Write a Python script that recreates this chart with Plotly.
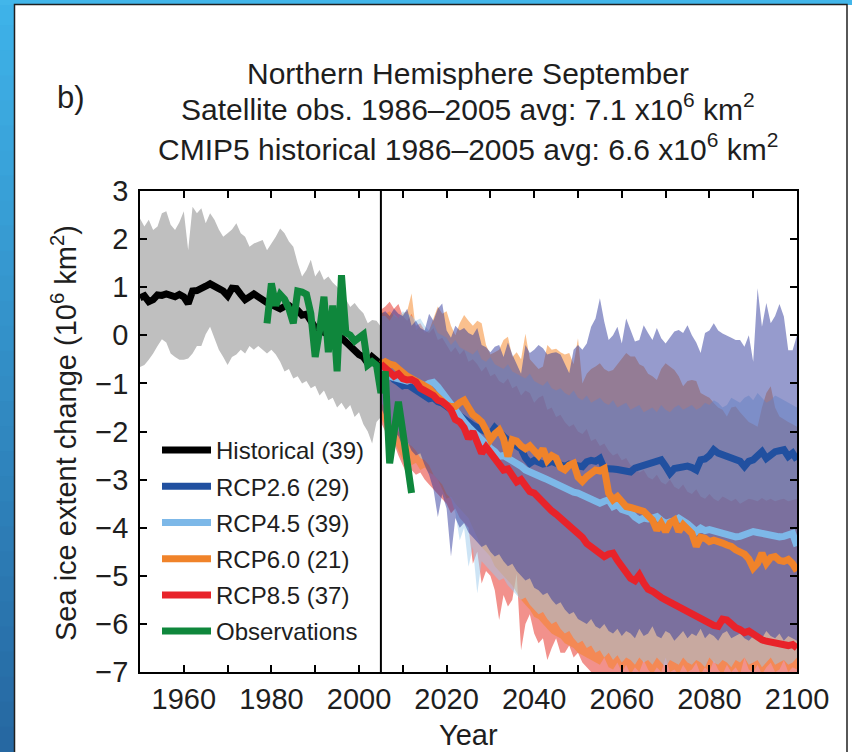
import plotly.graph_objects as go

# ---------------- data ----------------
hist_years = list(range(1950, 2006))
hist_mean = [0.78, 0.82, 0.70, 0.74, 0.84, 0.83, 0.86, 0.82, 0.80, 0.85,
             0.80, 0.66, 0.92, 0.93, 0.96, 1.02, 1.07, 1.00, 0.97, 0.92,
             0.82, 0.98, 0.97, 0.85, 0.74, 0.80, 0.86, 0.80, 0.72, 0.68,
             0.64, 0.60, 0.55, 0.60, 0.62, 0.55, 0.52, 0.42, 0.44, 0.30,
             0.16, 0.10, 0.05, 0.02, 0.06, -0.02, -0.05, -0.15, -0.25, -0.30,
             -0.40, -0.45, -0.58, -0.45, -0.55, -0.60]
hist_upper = [2.43, 2.26, 2.40, 2.19, 2.26, 2.54, 2.58, 2.30, 2.19, 2.35,
              2.58, 1.77, 2.67, 2.54, 2.64, 2.33, 2.54, 2.40, 2.20, 2.05,
              2.12, 2.20, 2.33, 2.12, 2.05, 1.84, 1.91, 1.95, 1.98, 1.77,
              1.90, 2.05, 2.22, 2.12, 1.95, 1.84, 1.50, 1.22, 1.36, 1.57,
              1.22, 1.36, 1.15, 1.22, 1.10, 1.01, 0.87, 0.75, 0.59, 0.67,
              0.55, 0.46, 0.25, 0.32, 0.30, 0.18]
hist_lower = [-0.66, -0.62, -0.51, -0.38, -0.22, -0.08, -0.15, -0.38, -0.45, -0.51,
              -0.51, -0.48, -0.38, -0.22, -0.22, 0.02, 0.18, -0.08, -0.30, -0.45,
              -0.62, -0.45, -0.40, -0.30, -0.38, -0.22, -0.30, -0.22, -0.30, -0.38,
              -0.30, -0.40, -0.55, -0.75, -0.70, -0.90, -0.85, -1.00, -0.95, -1.10,
              -1.05, -1.25, -1.15, -1.35, -1.30, -1.50, -1.40, -1.55, -1.45, -1.70,
              -1.60, -1.85, -2.00, -2.25, -1.80, -1.70]

obs_years = list(range(1979, 2013))
obs_values = [0.25, 1.08, 0.62, 0.85, 0.75, 0.55, 0.25, 0.92, 0.90, 0.85,
              0.45, -0.45, 0.10, 0.80, -0.35, 0.62, -0.75, 1.25, 0.05, 0.00,
              -0.12, -0.05, 0.02, -0.62, -0.55, -0.62, -1.20, -0.75, -2.66, -2.02,
              -1.38, -2.00, -2.60, -3.28]

# projections start from the end of the historical run (2005)
rcp_years = list(range(2005, 2101))

rcp26_mean = [-0.60,
              -0.72, -0.85, -0.92, -0.98, -1.05, -1.02, -1.08, -1.12, -1.18, -1.25,
              -1.32, -1.30, -1.38, -1.41, -1.48, -1.52, -1.58, -1.66, -1.72, -1.80,
              -1.87, -1.92, -1.97, -2.00, -2.05, -1.92, -2.04, -2.10, -2.18, -2.22,
              -2.30, -2.36, -2.55, -2.66, -2.60, -2.64, -2.68, -2.66, -2.62, -2.66,
              -2.70, -2.73, -2.68, -2.70, -2.72, -2.73, -2.63, -2.60, -2.62, -2.56,
              -2.77, -2.76, -2.78, -2.79, -2.80, -2.82, -2.84, -2.76, -2.73, -2.70,
              -2.66, -2.64, -2.63, -2.59, -2.72, -2.87, -2.77, -2.75, -2.73, -2.72,
              -2.75, -2.80, -2.59, -2.57, -2.50, -2.38, -2.45, -2.48, -2.52, -2.54,
              -2.56, -2.62, -2.73, -2.62, -2.59, -2.50, -2.42, -2.56, -2.48, -2.42,
              -2.40, -2.38, -2.52, -2.45, -2.59]
rcp26_upper = [0.45,
               0.50, 0.40, 0.55, 0.45, 0.40, 0.55, 0.20, 0.30, 0.15, 0.10,
               0.45, 0.30, 0.55, 0.66, 0.10, -0.05, 0.20, 0.10, 0.15, 0.05,
               0.00, 0.15, -0.20, -0.25, -0.35, -0.24, -0.20, -0.45, -0.15, -0.40,
               -0.60, -0.80, -0.20, -0.37, -0.30, -0.20, -0.27, -0.40, -0.37, -0.35,
               -0.40, -0.58, -0.79, -0.30, -0.20, -0.30, -0.17, 0.18, 0.35, 0.77,
               0.28, -0.10, 0.00, 0.18, -0.17, 0.35, 0.10, -0.13, -0.10, 0.21,
               0.05, -0.10, 0.15, -0.06, -0.17, -0.05, 0.08, 0.11, 0.05, 0.21,
               0.00, -0.15, -0.37, 0.05, 0.10, 0.25, 0.10, 0.04, 0.00, -0.05,
               -0.10, -0.10, -0.24, 0.00, -0.55, 0.98, 0.18, 0.67, 0.25, 0.40,
               0.65, 0.39, -0.31, -0.31, 0.00]
rcp26_lower = [-1.50,
               -1.70, -1.90, -2.00, -2.10, -2.30, -2.20, -2.40, -2.50, -2.45, -2.70,
               -2.90, -3.20, -3.78, -3.30, -3.60, -4.60, -3.80, -4.00, -3.90, -4.10,
               -4.20, -4.30, -4.40, -4.35, -4.50, -4.60, -4.55, -4.70, -4.80, -4.75,
               -4.90, -5.00, -5.10, -5.05, -5.25, -5.30, -5.40, -5.35, -5.50, -5.60,
               -5.55, -5.70, -5.80, -5.75, -5.90, -5.95, -6.00, -5.90, -6.05, -6.10,
               -6.00, -6.15, -6.20, -6.10, -6.25, -6.15, -6.20, -6.30, -6.10, -6.25,
               -6.20, -6.05, -6.25, -6.30, -6.15, -6.20, -6.35, -6.25, -6.15, -6.30,
               -6.20, -6.25, -6.10, -6.30, -6.20, -6.25, -6.35, -6.20, -6.15, -6.30,
               -6.25, -6.20, -6.30, -6.35, -6.25, -6.20, -6.30, -6.15, -6.25, -6.30,
               -6.20, -6.35, -6.25, -6.30, -6.35]

rcp45_mean = [-0.60,
              -0.72, -0.85, -0.88, -0.90, -0.92, -0.95, -0.92, -0.97, -1.02, -1.05,
              -1.00, -0.98, -1.07, -1.20, -1.31, -1.40, -1.55, -1.72, -1.80, -1.90,
              -2.00, -2.10, -2.17, -2.25, -2.35, -2.42, -2.52, -2.50, -2.55, -2.60,
              -2.66, -2.72, -2.80, -2.85, -2.88, -2.94, -2.96, -3.00, -3.05, -3.08,
              -3.12, -3.18, -3.22, -3.26, -3.28, -3.32, -3.35, -3.38, -3.42, -3.49,
              -3.45, -3.42, -3.56, -3.52, -3.62, -3.67, -3.68, -3.78, -3.84, -3.80,
              -3.82, -3.80, -3.77, -3.85, -3.91, -3.88, -3.86, -3.80, -3.85, -3.92,
              -4.00, -4.08, -4.01, -4.06, -4.04, -4.07, -4.08, -4.12, -4.14, -4.16,
              -4.19, -4.18, -4.15, -4.12, -4.08, -4.10, -4.12, -4.15, -4.17, -4.18,
              -4.19, -4.18, -4.14, -4.12, -4.38]
rcp45_upper = [0.40,
               0.40, 0.30, 0.45, 0.35, 0.50, 0.45, 0.40, 0.30, 0.35, 0.20,
               0.10, 0.25, 0.05, 0.00, -0.05, -0.20, -0.10, -0.25, -0.30, -0.35,
               -0.40, -0.30, -0.50, -0.55, -0.45, -0.60, -0.65, -0.70, -0.60, -0.75,
               -0.80, -0.85, -0.90, -0.80, -0.95, -1.00, -1.05, -0.95, -1.10, -1.15,
               -1.10, -1.20, -1.25, -1.15, -1.30, -1.35, -1.25, -1.40, -1.35, -1.30,
               -1.40, -1.45, -1.35, -1.50, -1.45, -1.40, -1.55, -1.50, -1.45, -1.60,
               -1.55, -1.50, -1.60, -1.45, -1.55, -1.60, -1.50, -1.45, -1.55, -1.50,
               -1.45, -1.55, -1.50, -1.40, -1.45, -1.35, -1.40, -1.50, -1.45, -1.30,
               -1.35, -1.40, -1.30, -1.25, -1.35, -1.20, -1.30, -1.40, -1.35, -1.25,
               -1.30, -1.35, -1.40, -1.45, -1.50]
rcp45_lower = [-1.40,
               -1.50, -1.80, -1.90, -2.00, -2.10, -2.25, -2.30, -2.40, -2.55, -2.60,
               -2.70, -2.90, -3.00, -3.10, -3.30, -3.40, -3.70, -4.26, -4.00, -4.81,
               -4.40, -5.37, -4.70, -4.80, -4.90, -5.00, -5.10, -5.05, -5.20, -5.30,
               -5.40, -5.50, -5.45, -5.60, -5.70, -5.80, -5.75, -5.90, -6.00, -5.95,
               -6.10, -6.20, -6.15, -6.30, -6.40, -6.35, -6.50, -6.45, -6.60, -6.55,
               -6.70, -6.60, -6.75, -6.65, -6.80, -6.70, -6.75, -6.85, -6.70, -6.80,
               -6.75, -6.85, -6.70, -6.80, -6.90, -6.75, -6.80, -6.85, -6.70, -6.80,
               -6.85, -6.75, -6.80, -6.90, -6.70, -6.80, -6.85, -6.75, -6.80, -6.90,
               -6.75, -6.80, -6.70, -6.85, -6.80, -6.75, -6.90, -6.80, -6.70, -6.85,
               -6.80, -6.75, -6.85, -6.80, -6.70]

rcp60_mean = [-0.60,
              -0.55, -0.60, -0.62, -0.70, -0.80, -0.85, -0.90, -0.95, -1.00, -1.05,
              -1.10, -1.20, -1.28, -1.35, -1.45, -1.48, -1.48, -1.40, -1.35, -1.50,
              -1.65, -1.72, -1.80, -1.97, -2.17, -2.05, -1.97, -2.15, -2.52, -2.17,
              -2.20, -2.30, -2.36, -2.30, -2.43, -2.50, -2.36, -2.60, -2.50, -2.55,
              -2.75, -2.80, -2.70, -2.66, -2.95, -3.04, -2.94, -2.85, -2.80, -2.82,
              -2.77, -3.28, -3.42, -3.35, -3.45, -3.56, -3.58, -3.60, -3.62, -3.66,
              -3.75, -3.84, -4.05, -3.91, -4.08, -3.90, -3.84, -4.08, -3.94, -4.02,
              -4.12, -4.39, -4.20, -4.22, -4.29, -4.26, -4.28, -4.32, -4.36, -4.39,
              -4.46, -4.50, -4.55, -4.65, -4.84, -4.74, -4.53, -4.74, -4.62, -4.60,
              -4.68, -4.70, -4.66, -4.75, -4.90]
rcp60_upper = [0.50,
               0.45, 0.50, 0.40, 0.35, 0.45, 0.50, 0.87, 0.10, 0.20, 0.05,
               0.10, 0.35, 0.60, 0.45, 0.50, 0.20, 0.00, 0.25, 0.42, 0.30,
               0.20, 0.30, 0.25, -0.20, -0.40, -0.35, -0.30, -0.10, -0.03, -0.45,
               -0.35, -0.50, 0.03, -0.50, -0.60, -0.70, -0.65, -0.20, -0.30, -0.28,
               -0.35, -0.40, -0.37, -0.60, -0.06, -1.00, -0.80, -0.70, -0.65, -0.58,
               -0.70, -0.75, -0.72, -0.60, -0.50, -0.37, -0.44, -0.44, -0.60, -0.65,
               -0.80, -0.85, -0.93, -0.70, -0.58, -0.65, -0.72, -0.85, -1.06, -0.95,
               -0.93, -0.95, -1.20, -1.25, -1.30, -1.41, -1.50, -1.55, -1.69, -1.50,
               -1.48, -1.60, -1.69, -1.80, -1.85, -1.90, -1.50, -1.20, -1.06, -1.50,
               -1.69, -1.75, -1.80, -1.85, -1.90]
rcp60_lower = [-1.70,
               -1.90, -2.10, -2.20, -2.40, -2.60, -2.50, -2.70, -2.65, -2.80, -2.75,
               -2.85, -2.90, -3.00, -3.20, -3.40, -3.35, -3.50, -3.60, -3.70, -3.80,
               -4.00, -4.20, -4.40, -4.50, -4.60, -4.80, -4.90, -5.00, -5.10, -5.20,
               -5.35, -5.50, -5.60, -5.70, -5.85, -5.90, -6.00, -6.10, -6.20, -6.25,
               -6.30, -6.40, -6.45, -6.50, -6.60, -6.65, -6.70, -6.75, -6.80, -6.85,
               -6.70, -6.90, -6.95, -6.80, -7.00, -6.85, -7.05, -6.90, -7.00, -6.75,
               -6.95, -7.05, -6.90, -7.00, -6.70, -7.00, -6.95, -7.05, -6.85, -7.00,
               -6.95, -6.80, -7.05, -6.90, -7.00, -6.75, -6.95, -7.05, -6.85, -7.00,
               -6.90, -7.05, -6.70, -6.95, -7.00, -6.85, -7.05, -6.90, -6.80, -7.00,
               -6.95, -6.75, -7.00, -6.90, -6.95]

rcp85_mean = [-0.60,
              -0.70, -0.78, -0.85, -0.80, -0.90, -0.93, -0.92, -0.97, -1.10, -1.15,
              -1.20, -1.25, -1.35, -1.38, -1.45, -1.55, -1.75, -1.80, -1.92, -2.15,
              -2.00, -2.20, -2.45, -2.32, -2.45, -2.55, -2.70, -2.80, -2.78, -2.95,
              -3.05, -3.00, -3.15, -3.25, -3.28, -3.38, -3.50, -3.58, -3.65, -3.72,
              -3.80, -3.84, -3.92, -4.02, -4.10, -4.20, -4.33, -4.40, -4.48, -4.57,
              -4.60, -4.55, -4.53, -4.68, -4.82, -4.95, -5.05, -5.10, -4.98, -5.15,
              -5.28, -5.32, -5.40, -5.45, -5.50, -5.55, -5.60, -5.62, -5.66, -5.72,
              -5.78, -5.85, -5.90, -5.95, -6.00, -6.03, -6.05, -5.90, -5.92, -6.02,
              -6.08, -6.12, -6.18, -6.15, -6.22, -6.28, -6.33, -6.36, -6.38, -6.42,
              -6.43, -6.44, -6.45, -6.43, -6.50]
rcp85_upper = [0.53,
               0.60, 0.70, 0.55, 0.65, 0.40, 0.30, 0.45, 0.20, 0.25, 0.10,
               0.05, 0.15, -0.10, -0.05, -0.20, -0.35, -0.25, -0.40, -0.30, -0.55,
               -0.50, -0.60, -0.75, -0.65, -0.85, -0.80, -0.95, -1.00, -0.90, -1.10,
               -1.05, -1.25, -1.15, -1.20, -1.40, -1.30, -1.25, -1.55, -1.50, -1.70,
               -1.65, -1.80, -1.90, -1.85, -2.00, -2.05, -1.95, -2.20, -2.15, -2.30,
               -2.25, -2.40, -2.50, -2.45, -2.60, -2.55, -2.70, -2.75, -2.85, -2.80,
               -2.95, -3.00, -2.90, -3.05, -3.10, -3.00, -3.15, -3.20, -3.10, -3.25,
               -3.30, -3.20, -3.35, -3.40, -3.30, -3.40, -3.45, -3.35, -3.40, -3.45,
               -3.40, -3.50, -3.45, -3.40, -3.42, -3.45, -3.38, -3.44, -3.40, -3.45,
               -3.42, -3.40, -3.45, -3.42, -3.40]
rcp85_lower = [-1.80,
               -2.00, -2.20, -2.25, -2.50, -2.70, -2.90, -2.80, -2.90, -2.85, -3.00,
               -3.10, -3.20, -3.30, -3.40, -3.50, -3.70, -3.60, -3.80, -3.90, -4.00,
               -4.75, -4.50, -5.16, -4.90, -5.00, -5.30, -5.92, -5.40, -5.64, -5.50,
               -4.95, -6.55, -6.00, -5.80, -6.20, -6.40, -6.30, -6.75, -6.50, -6.30,
               -6.60, -6.60, -6.45, -6.70, -6.60, -6.80, -6.90, -7.00, -7.10, -7.20,
               -7.30, -7.40, -7.35, -7.45, -7.40, -7.50, -7.45, -7.50, -7.55, -7.50,
               -7.55, -7.60, -7.50, -7.55, -7.60, -7.55, -7.60, -7.65, -7.60, -7.55,
               -7.60, -7.65, -7.60, -7.65, -7.70, -7.60, -7.65, -7.70, -7.65, -7.60,
               -7.65, -7.70, -7.65, -7.70, -7.75, -7.70, -7.65, -7.70, -7.75, -7.70,
               -7.70, -7.75, -7.70, -7.75, -7.70]

split_year = 2005
x_tick_values = list(range(1960, 2101, 10))
x_tick_labels = ["1960", "", "1980", "", "2000", "", "2020", "", "2040", "",
                 "2060", "", "2080", "", "2100"]
y_tick_values = list(range(-7, 4))
y_tick_labels = ["\u22127", "\u22126", "\u22125", "\u22124", "\u22123", "\u22122",
                 "\u22121", "0", "1", "2", "3"]

series_names = ["Historical (39)", "RCP2.6 (29)", "RCP4.5 (39)", "RCP6.0 (21)",
                "RCP8.5 (37)", "Observations"]

# ---------------- styling ----------------
FONT = "Liberation Sans, Arial, Helvetica, sans-serif"
TXT = "#1e1e1e"
W, H = 852, 752
ML, MR, MT, MB = 140, 55, 191, 80
PW, PH = W - ML - MR, H - MT - MB

def px_x(px):
    return (px - ML) / PW

def px_y(py):
    return (MT + PH - py) / PH

line_colors = ["#000000", "#2150a0", "#7db8e8", "#f0832a", "#e8232a", "#0f873c"]
band_colors = {
    "hist": "rgb(191,191,191)",
    "rcp85": "rgba(230,35,25,0.5)",
    "rcp60": "rgba(245,130,30,0.5)",
    "rcp45": "rgba(156,202,235,0.5)",
    "rcp26": "rgba(45,55,155,0.5)",
}

fig = go.Figure()

def add_band(x, upper, lower, color):
    fig.add_trace(go.Scatter(x=x, y=upper, mode="lines", line=dict(width=0, color=color),
                             showlegend=False, hoverinfo="skip"))
    fig.add_trace(go.Scatter(x=x, y=lower, mode="lines", line=dict(width=0, color=color),
                             fill="tonexty", fillcolor=color, showlegend=False, hoverinfo="skip"))

add_band(hist_years, hist_upper, hist_lower, band_colors["hist"])
add_band(rcp_years, rcp85_upper, rcp85_lower, band_colors["rcp85"])
add_band(rcp_years, rcp60_upper, rcp60_lower, band_colors["rcp60"])
add_band(rcp_years, rcp45_upper, rcp45_lower, band_colors["rcp45"])
add_band(rcp_years, rcp26_upper, rcp26_lower, band_colors["rcp26"])

line_series = [
    (hist_years, hist_mean),
    (rcp_years, rcp26_mean),
    (rcp_years, rcp45_mean),
    (rcp_years, rcp60_mean),
    (rcp_years, rcp85_mean),
    (obs_years, obs_values),
]
for i, ((xs, ys), name, col) in enumerate(zip(line_series, series_names, line_colors)):
    fig.add_trace(go.Scatter(x=xs, y=ys, mode="lines", name=name, legendgroup="g%d" % i,
                             legendrank=i + 1,
                             line=dict(color=col, width=7)))

# split line at end of historical period
fig.add_shape(type="line", xref="x", yref="paper", x0=split_year, x1=split_year,
              y0=0, y1=1, line=dict(color="black", width=2), layer="above")

# ---- page frame (blue border + white panel) ----
shapes = []
n_seg = 30
top_c = (62, 178, 232)
bot_c = (38, 104, 162)
for i in range(n_seg):
    t = i / (n_seg - 1)
    c = tuple(int(round(top_c[k] + (bot_c[k] - top_c[k]) * t)) for k in range(3))
    y0 = i * H / n_seg
    y1 = (i + 1) * H / n_seg + 1
    shapes.append(dict(type="rect", xref="paper", yref="paper",
                       x0=px_x(0), x1=px_x(15), y0=px_y(y0), y1=px_y(y1),
                       line=dict(width=0), fillcolor="rgb(%d,%d,%d)" % c, layer="below"))
shapes.append(dict(type="rect", xref="paper", yref="paper",
                   x0=px_x(0), x1=px_x(W), y0=px_y(0), y1=px_y(5),
                   line=dict(width=0), fillcolor="rgb(66,182,234)", layer="below"))
shapes.append(dict(type="rect", xref="paper", yref="paper",
                   x0=px_x(14.5), x1=px_x(847), y0=px_y(4.5), y1=px_y(760),
                   line=dict(width=1.5, color="#202020"), fillcolor="white", layer="below"))
for s in shapes:
    fig.add_shape(**s)

# ---- titles ----
ann = []
title_lines = [
    ("Northern Hemisphere September", 73),
    ("Satellite obs. 1986\u20132005 avg: 7.1 x10<sup>6</sup> km<sup>2</sup>", 107),
    ("CMIP5 historical 1986\u20132005 avg: 6.6 x10<sup>6</sup> km<sup>2</sup>", 147),
]
for txt, py in title_lines:
    ann.append(dict(text=txt, xref="paper", yref="paper", x=px_x(468), y=px_y(py),
                    xanchor="center", yanchor="middle", showarrow=False,
                    font=dict(family=FONT, size=30, color=TXT)))
ann.append(dict(text="b)", xref="paper", yref="paper", x=px_x(71), y=px_y(97),
                xanchor="center", yanchor="middle", showarrow=False,
                font=dict(family=FONT, size=31, color=TXT)))
ann.append(dict(text="Year", xref="paper", yref="paper", x=px_x(468), y=px_y(735),
                xanchor="center", yanchor="middle", showarrow=False,
                font=dict(family=FONT, size=29, color=TXT)))
ann.append(dict(text="Sea ice extent change (10<sup>6</sup> km<sup>2</sup>)",
                xref="paper", yref="paper", x=px_x(64), y=px_y(433), textangle=-90,
                xanchor="center", yanchor="middle", showarrow=False,
                font=dict(family=FONT, size=29, color=TXT)))

axis_common = dict(showline=True, linecolor="black", linewidth=1.5, mirror="ticks",
                   ticks="inside", ticklen=7, tickwidth=1.5, tickcolor="black",
                   showgrid=False, zeroline=False,
                   tickfont=dict(family=FONT, size=29, color=TXT))

fig.update_layout(
    width=W, height=H,
    margin=dict(l=ML, r=MR, t=MT, b=MB),
    paper_bgcolor="white", plot_bgcolor="rgba(0,0,0,0)",
    xaxis=dict(range=[1950, 2100], tickmode="array", tickvals=x_tick_values,
               ticktext=x_tick_labels, **axis_common),
    yaxis=dict(range=[-7, 3], tickmode="array", tickvals=y_tick_values,
               ticktext=y_tick_labels, ticklabelstandoff=4, **axis_common),
    legend=dict(x=px_x(157), y=px_y(428), xanchor="left", yanchor="top",
                traceorder="grouped", tracegroupgap=2,
                bgcolor="rgba(0,0,0,0)", borderwidth=0, itemwidth=49,
                font=dict(family=FONT, size=24, color=TXT)),
    annotations=ann,
    showlegend=True,
)

fig.write_html("out.html", config={"displayModeBar": False},
               post_script="document.body.style.margin='0';document.body.style.overflow='hidden';")
